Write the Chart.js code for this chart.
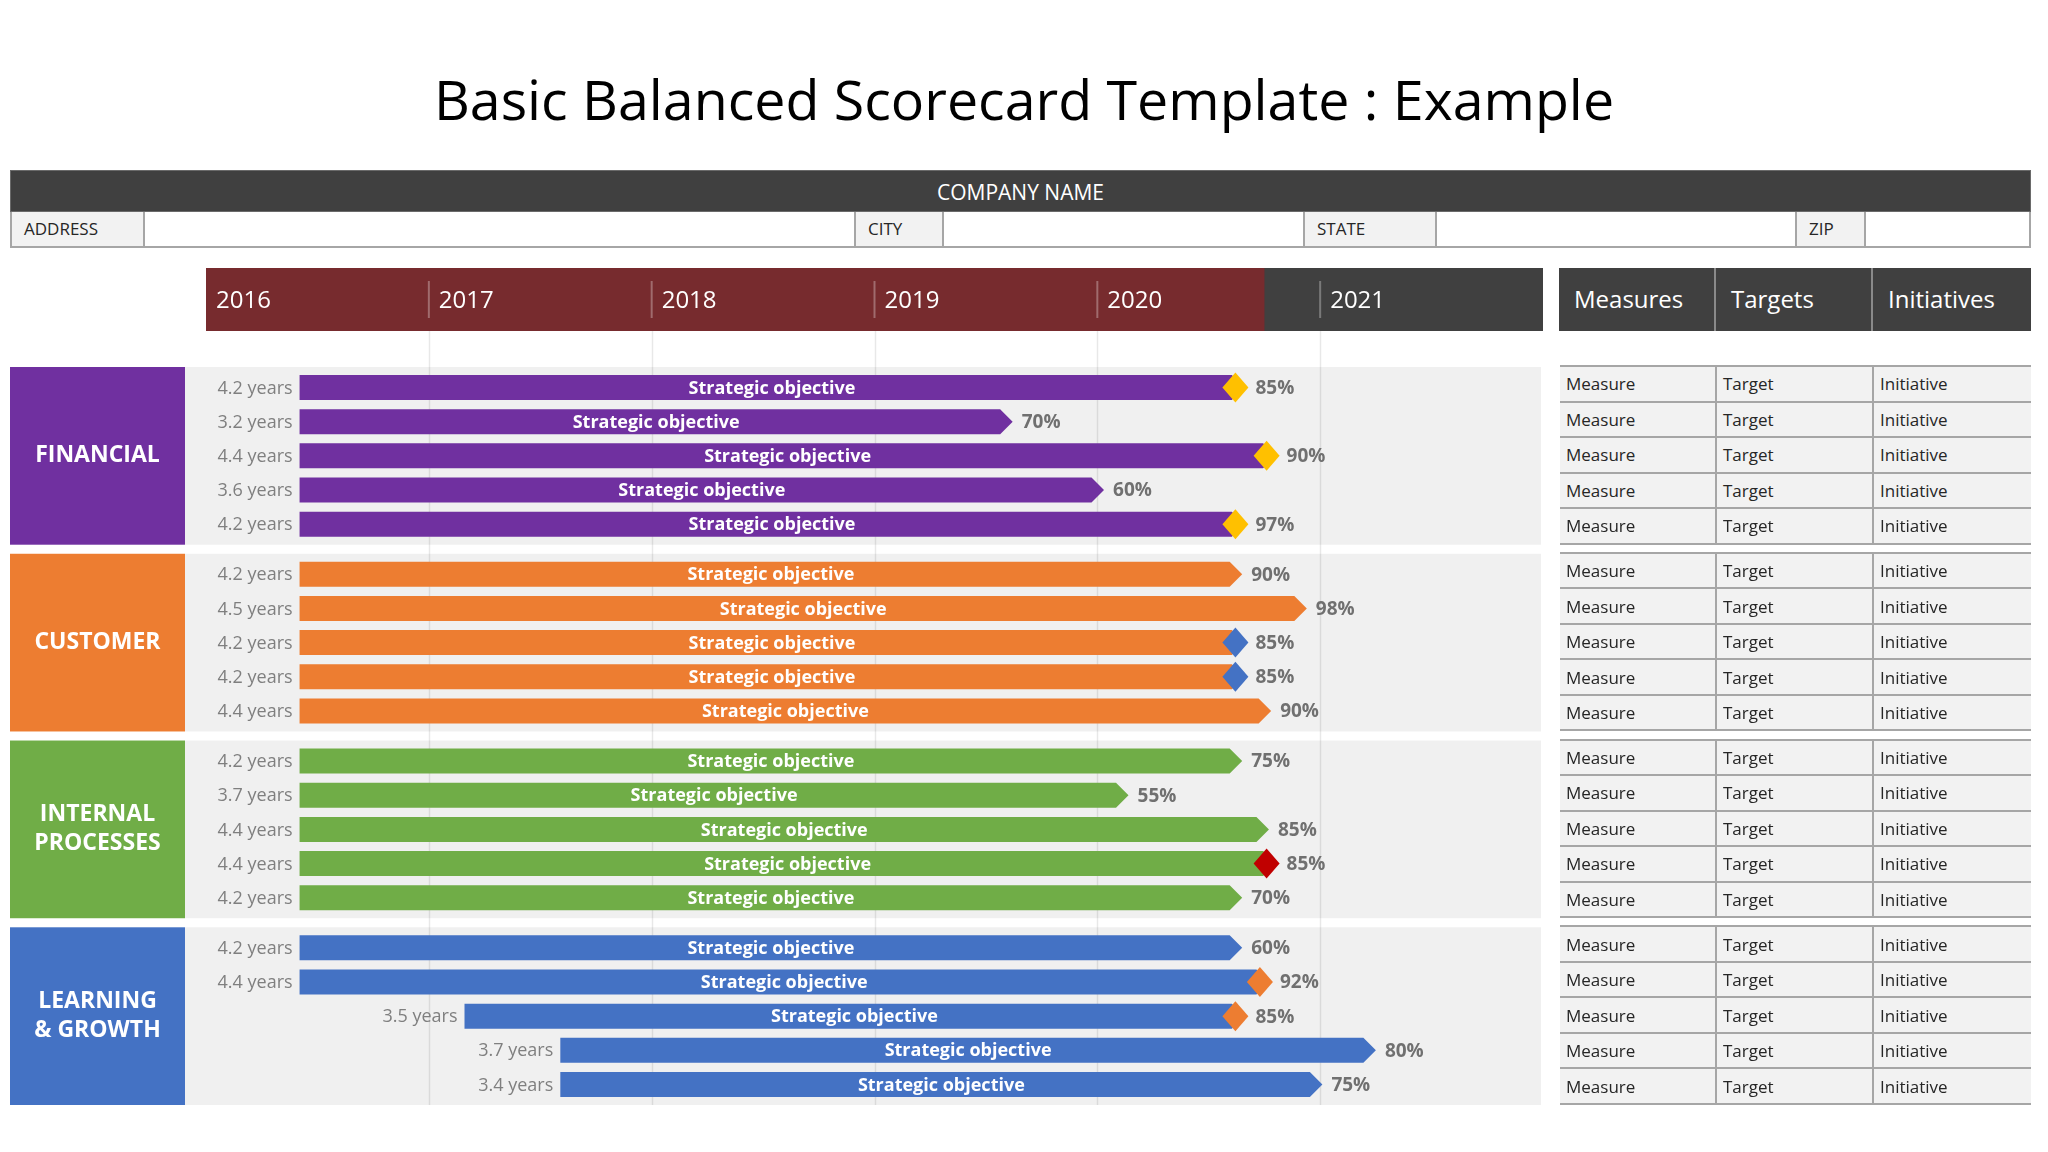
<!DOCTYPE html>
<html>
<head>
<meta charset="utf-8">
<title>Basic Balanced Scorecard Template : Example</title>
<script src="https://cdn.jsdelivr.net/npm/chart.js@4.4.1/dist/chart.umd.min.js"></script>
<style>
  body { margin: 0; background: #fff; font-family: 'Open Sans', sans-serif; }
  #page { position: relative; width: 2048px; height: 1152px; overflow: hidden; }
  #board { position: absolute; left: 0; top: 0; }
  .abs { position: absolute; box-sizing: border-box; }
  #title { left: 0; width: 2048px; top: 71px; text-align: center; font-size: 55.5px; line-height: 1; color: #000; }
  #company { left: 10px; width: 2021px; top: 170px; height: 42px; background: #404040; color: #fff;
             font-size: 21px; line-height: 42px; text-align: center; border: 1px solid #6a6a6a; }
  #address { left: 10px; width: 2021px; top: 212px; height: 36px; border: 2px solid #a6a6a6; border-top: none; }
  .lbl { position: absolute; top: 0; height: 34px; background: #f2f2f2; border-left: 2px solid #a6a6a6;
         border-right: 2px solid #a6a6a6; font-size: 17px; line-height: 34px; padding-left: 12px;
         color: #262626; box-sizing: border-box; }
  #rhead { left: 1559px; width: 472px; top: 268px; height: 63px; background: #404040; }
  .hcell { position: absolute; top: 0; height: 63px; color: #fff; font-size: 24px; line-height: 61px;
           padding-left: 15px; box-sizing: border-box; border-left: 2px solid #8a8a8a; }
  .trow { position: absolute; left: 1560px; width: 471px; box-sizing: border-box; background: #f2f2f2;
          border-bottom: 2px solid #a6a6a6; }
  .tcell { position: absolute; top: 0; bottom: 0; font-size: 17px; color: #262626; padding-left: 6px;
           box-sizing: border-box; display: flex; align-items: center; }
</style>
</head>
<body>
<div id="page">
  <canvas id="board" width="2048" height="1152"></canvas>
  <div id="title" class="abs">Basic Balanced Scorecard Template : Example</div>
  <div id="company" class="abs">COMPANY NAME</div>
  <div id="address" class="abs">
    <div class="lbl" style="left:-2px;width:135px;">ADDRESS</div>
    <div class="lbl" style="left:842px;width:90px;">CITY</div>
    <div class="lbl" style="left:1291px;width:134px;">STATE</div>
    <div class="lbl" style="left:1783px;width:71px;">ZIP</div>
  </div>
  <div id="rhead" class="abs">
    <div class="hcell" style="left:0;width:157px;border-left:none;">Measures</div>
    <div class="hcell" style="left:155px;width:157px;">Targets</div>
    <div class="hcell" style="left:312px;width:160px;">Initiatives</div>
  </div>
</div>
<script>
// timeline
var years = [2016, 2017, 2018, 2019, 2020, 2021];
var yearEnd = 2022;
var elapsedTo = 2020.75;

// perspectives
var sectionLines = [['FINANCIAL'], ['CUSTOMER'], ['INTERNAL', 'PROCESSES'], ['LEARNING', '& GROWTH']];
var sectionColors = ['#7030a0', '#ed7d31', '#70ad47', '#4472c4'];
var objectiveName = 'Strategic objective';

// bars: start and end (arrow tip) in years
var startYears = [
    [2016.42, 2016.42, 2016.42, 2016.42, 2016.42],
    [2016.42, 2016.42, 2016.42, 2016.42, 2016.42],
    [2016.42, 2016.42, 2016.42, 2016.42, 2016.42],
    [2016.42, 2016.42, 2017.16, 2017.59, 2017.59]
];
var endYears = [
    [2020.66, 2019.62, 2020.80, 2020.03, 2020.66],
    [2020.65, 2020.94, 2020.66, 2020.66, 2020.78],
    [2020.65, 2020.14, 2020.77, 2020.80, 2020.65],
    [2020.65, 2020.77, 2020.66, 2021.25, 2021.01]
];
// labelled durations (years) and progress (%)
var durations = [
    [4.2, 3.2, 4.4, 3.6, 4.2],
    [4.2, 4.5, 4.2, 4.2, 4.4],
    [4.2, 3.7, 4.4, 4.4, 4.2],
    [4.2, 4.4, 3.5, 3.7, 3.4]
];
var progress = [
    [85, 70, 90, 60, 97],
    [90, 98, 85, 85, 90],
    [75, 55, 85, 85, 70],
    [60, 92, 85, 80, 75]
];
var markerColors = [
    ['#ffc000', null, '#ffc000', null, '#ffc000'],
    [null, null, '#4472c4', '#4472c4', null],
    [null, null, null, '#c00000', null],
    [null, '#ed7d31', '#ed7d31', null, null]
];

// table columns
var tableHeaders = ['Measure', 'Target', 'Initiative'];

var sectionStep = 5.465;
var bandPad = 0.6;

function rowPos(s, r) {
    return s * sectionStep + r;
}

var datasets = startYears.map(function (starts, s) {
    return {
        type: 'bar',
        label: sectionLines[s].join(' '),
        data: starts.map(function (st, r) {
            return { x: [st, endYears[s][r]], y: rowPos(s, r) };
        }),
        backgroundColor: 'rgba(0,0,0,0)',
        barThickness: 25,
        grouped: false
    };
});

var scorecardPlugin = {
    id: 'scorecard',
    beforeDatasetsDraw: function (chart) {
        var ctx = chart.ctx;
        var xs = chart.scales.x, ys = chart.scales.y;
        var area = chart.chartArea;
        ctx.save();

        // bands + perspective boxes
        sectionLines.forEach(function (lines, s) {
            var top = ys.getPixelForValue(rowPos(s, 0) - bandPad);
            var bot = ys.getPixelForValue(rowPos(s, 4) + bandPad);
            ctx.fillStyle = '#f0f0f0';
            ctx.fillRect(185, top, area.right - 2 - 185, bot - top);
            ctx.fillStyle = sectionColors[s];
            ctx.fillRect(10, top, 175, bot - top);
            ctx.fillStyle = '#fff';
            ctx.font = 'bold 23px "Open Sans"';
            ctx.textAlign = 'center';
            ctx.textBaseline = 'middle';
            var mid = (top + bot) / 2;
            lines.forEach(function (ln, i) {
                ctx.fillText(ln, 97.5, mid + (i - (lines.length - 1) / 2) * 29);
            });
        });

        // year grid lines
        ctx.strokeStyle = 'rgba(0,0,0,0.09)';
        ctx.lineWidth = 1.5;
        years.forEach(function (yr) {
            if (yr === years[0]) return;
            var px = Math.round(xs.getPixelForValue(yr)) + 0.5;
            ctx.beginPath();
            ctx.moveTo(px, 331);
            ctx.lineTo(px, area.bottom);
            ctx.stroke();
        });

        // year header
        var x0 = xs.getPixelForValue(years[0]);
        var x1 = xs.getPixelForValue(yearEnd);
        var xe = xs.getPixelForValue(elapsedTo);
        ctx.fillStyle = '#404040';
        ctx.fillRect(x0, 268, x1 - x0, 63);
        ctx.fillStyle = '#772b2e';
        ctx.fillRect(x0, 268, xe - x0, 63);
        ctx.font = '24px "Open Sans"';
        ctx.textAlign = 'left';
        ctx.textBaseline = 'middle';
        years.forEach(function (yr, i) {
            var px = xs.getPixelForValue(yr);
            if (i > 0) {
                ctx.strokeStyle = 'rgba(255,255,255,0.3)';
                ctx.lineWidth = 2;
                ctx.beginPath();
                ctx.moveTo(px, 281);
                ctx.lineTo(px, 318);
                ctx.stroke();
            }
            ctx.fillStyle = '#fff';
            ctx.fillText(String(yr), px + 10, 301);
        });
        ctx.restore();
    },
    afterDatasetsDraw: function (chart) {
        var ctx = chart.ctx;
        ctx.save();
        chart.data.datasets.forEach(function (ds, s) {
            var meta = chart.getDatasetMeta(s);
            meta.data.forEach(function (bar, r) {
                var tip = bar.x, base = bar.base, cy = bar.y, h = bar.height;
                var flat = tip - h / 2;
                ctx.fillStyle = sectionColors[s];
                ctx.beginPath();
                ctx.moveTo(base, cy - h / 2);
                ctx.lineTo(flat, cy - h / 2);
                ctx.lineTo(tip, cy);
                ctx.lineTo(flat, cy + h / 2);
                ctx.lineTo(base, cy + h / 2);
                ctx.closePath();
                ctx.fill();

                // objective text
                ctx.fillStyle = '#fff';
                ctx.font = 'bold 18px "Open Sans"';
                ctx.textAlign = 'center';
                ctx.textBaseline = 'middle';
                ctx.fillText(objectiveName, (base + tip) / 2, cy + 1);

                // duration text
                ctx.fillStyle = '#7f7f7f';
                ctx.font = '18px "Open Sans"';
                ctx.textAlign = 'right';
                ctx.fillText(durations[s][r] + ' years', base - 7, cy + 1);

                // status marker
                var mc = markerColors[s][r];
                var labelX = tip + 9;
                if (mc) {
                    var dx = tip - 9;
                    ctx.fillStyle = mc;
                    ctx.beginPath();
                    ctx.moveTo(dx, cy - 15);
                    ctx.lineTo(dx + 13, cy);
                    ctx.lineTo(dx, cy + 15);
                    ctx.lineTo(dx - 13, cy);
                    ctx.closePath();
                    ctx.fill();
                    labelX = dx + 13 + 7;
                }

                // progress text
                ctx.fillStyle = '#707070';
                ctx.font = 'bold 19px "Open Sans"';
                ctx.textAlign = 'left';
                ctx.fillText(progress[s][r] + '%', labelX, cy + 1);
            });
        });
        ctx.restore();
    }
};

var ctx = document.getElementById('board').getContext('2d');
var theChart = new Chart(ctx, {
    type: 'bar',
    data: { datasets: datasets },
    options: {
        indexAxis: 'y',
        responsive: false,
        animation: false,
        devicePixelRatio: 1,
        layout: {
            padding: { left: 206, right: 505, top: 367, bottom: 47 }
        },
        scales: {
            x: { type: 'linear', min: years[0], max: yearEnd, offset: false, display: false },
            y: { type: 'linear', reverse: true, offset: false, min: -bandPad, max: rowPos(3, 4) + bandPad, display: false }
        },
        plugins: {
            legend: { display: false },
            tooltip: { enabled: false }
        }
    },
    plugins: [scorecardPlugin]
});

// right-hand table, rows lined up with the chart bands
function buildTable() {
    var ys = theChart.scales.y;
    var page = document.getElementById('page');
    var colLeft = [0, 155, 312];
    var colWidth = [155, 157, 159];
    sectionLines.forEach(function (lines, s) {
        var top = ys.getPixelForValue(rowPos(s, 0) - bandPad);
        var bot = ys.getPixelForValue(rowPos(s, 4) + bandPad);
        var rh = (bot - top) / 5;
        var topLine = document.createElement('div');
        topLine.className = 'abs';
        topLine.style.cssText = 'left:1560px;width:471px;height:2px;background:#a6a6a6;top:' + (top - 2) + 'px;';
        page.appendChild(topLine);
        for (var r = 0; r < 5; r++) {
            var row = document.createElement('div');
            row.className = 'trow';
            row.style.top = (top + r * rh) + 'px';
            row.style.height = rh + 'px';
            tableHeaders.forEach(function (txt, c) {
                var cell = document.createElement('div');
                cell.className = 'tcell';
                cell.style.left = colLeft[c] + 'px';
                cell.style.width = colWidth[c] + 'px';
                if (c > 0) cell.style.borderLeft = '2px solid #a6a6a6';
                cell.textContent = txt;
                row.appendChild(cell);
            });
            page.appendChild(row);
        }
    });
}
buildTable();
</script>
</body>
</html>
